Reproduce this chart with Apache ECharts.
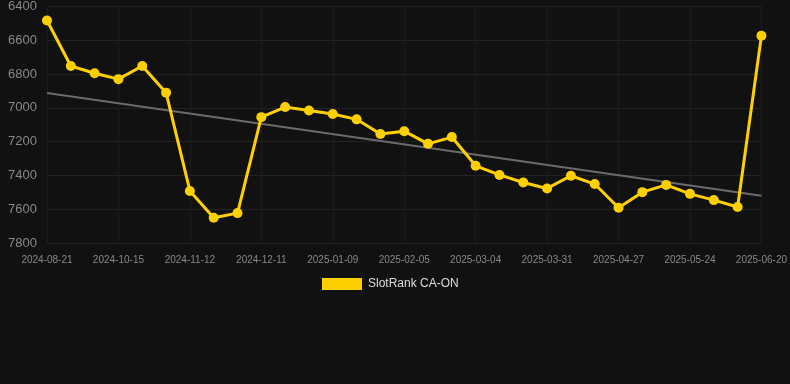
<!DOCTYPE html>
<html>
<head>
<meta charset="utf-8">
<script src="https://cdn.jsdelivr.net/npm/echarts@6/dist/echarts.min.js"></script>
<style>
html,body{margin:0;padding:0;background:#111111;}
#c{width:790px;height:384px;}
</style>
</head>
<body>
<div id="c"></div>
<script>
var dates = ["2024-08-21","2024-09-08","2024-09-27","2024-10-15","2024-10-24","2024-11-03","2024-11-12","2024-11-22","2024-12-01","2024-12-11","2024-12-21","2024-12-30","2025-01-09","2025-01-18","2025-01-27","2025-02-05","2025-02-14","2025-02-23","2025-03-04","2025-03-13","2025-03-22","2025-03-31","2025-04-09","2025-04-18","2025-04-27","2025-05-06","2025-05-15","2025-05-24","2025-06-02","2025-06-11","2025-06-20"];
var rankValues = [6483,6752,6795,6830,6752,6910,7492,7650,7623,7055,6995,7016,7036,7068,7155,7138,7213,7173,7343,7397,7442,7477,7402,7451,7591,7499,7456,7509,7546,7587,6573];
var seriesName = "SlotRank CA-ON";
var trendStart = 6912;
var trendEnd = 7520;
var yMin = 6400, yMax = 7800, yStep = 200;

var trendData = dates.map(function(d, i){
  if (i === 0) return trendStart;
  if (i === dates.length - 1) return trendEnd;
  return null;
});

var chart = echarts.init(document.getElementById('c'), null, {renderer:'canvas'});
chart.setOption({
  backgroundColor: '#111111',
  animation: false,
  grid: {left: 47, right: 28, top: 6, bottom: 141, containLabel: false},
  legend: {
    data: [seriesName],
    top: 278,
    left: 322,
    itemWidth: 40,
    itemHeight: 12,
    itemGap: 10,
    padding: 0,
    icon: 'rect',
    textStyle: {color: '#dddddd', fontSize: 12, padding: [0,0,0,1], fontFamily: 'Liberation Sans, Arial, sans-serif'}
  },
  xAxis: {
    type: 'category',
    data: dates,
    boundaryGap: false,
    axisLine: {show: false},
    axisTick: {show: false},
    axisLabel: {interval: 2, color: '#888888', fontSize: 10, margin: 12, fontFamily: 'Liberation Sans, Arial, sans-serif'},
    splitLine: {show: true, interval: 2, lineStyle: {color: '#1c1c1c', width: 1}}
  },
  yAxis: {
    type: 'value',
    inverse: true,
    min: yMin,
    max: yMax,
    interval: yStep,
    axisLine: {show: false},
    axisTick: {show: false},
    axisLabel: {color: '#888888', fontSize: 13, margin: 10, formatter: function(v){ return String(v); }, fontFamily: 'Liberation Sans, Arial, sans-serif'},
    splitLine: {show: true, lineStyle: {color: '#222222', width: 1}}
  },
  series: [
    {
      name: 'trend',
      type: 'line',
      data: trendData,
      connectNulls: true,
      symbol: 'none',
      silent: true,
      lineStyle: {color: '#6b6b6b', width: 2},
      z: 1
    },
    {
      name: seriesName,
      type: 'line',
      data: rankValues,
      symbol: 'circle',
      symbolSize: 10,
      itemStyle: {color: '#ffd000'},
      lineStyle: {color: '#ffd000', width: 3},
      z: 2
    }
  ]
});
</script>
</body>
</html>
